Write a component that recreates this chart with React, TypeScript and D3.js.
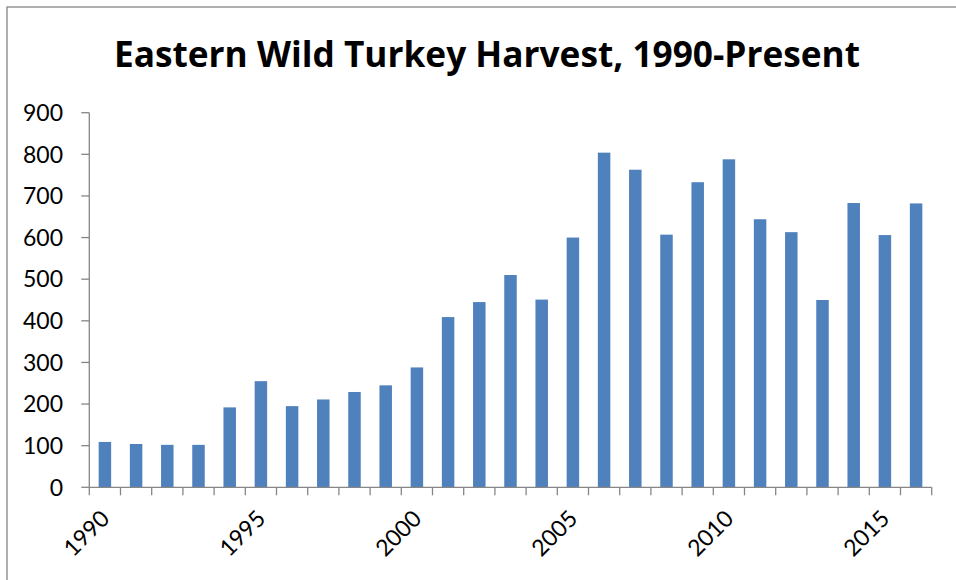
import React from "react";
import * as d3 from "d3";

const years: string[] = [
  "1990","1991","1992","1993","1994","1995","1996","1997","1998","1999",
  "2000","2001","2002","2003","2004","2005","2006","2007","2008","2009",
  "2010","2011","2012","2013","2014","2015","2016",
];
const harvest: number[] = [
  109, 104, 102, 102, 192, 255, 195, 211, 229, 245,
  288, 409, 445, 510, 451, 600, 804, 763, 607, 733,
  788, 644, 613, 450, 683, 606, 682,
];
const labeledYears: string[] = ["1990", "1995", "2000", "2005", "2010", "2015"];
const yTicks: number[] = [0, 100, 200, 300, 400, 500, 600, 700, 800, 900];
const title = "Eastern Wild Turkey Harvest, 1990-Present";

const W = 956;
const H = 580;
const left = 89.3;
const right = 931.7;
const top = 112.7;
const bottom = 487.3;
const axisColor = "#868686";
const barColor = "#4F81BD";
const font = "Lato, 'Open Sans', sans-serif";
const titleFont = "'Open Sans', Lato, sans-serif";

export default function App() {
  const x = d3.scaleBand<string>().domain(years).range([left, right]).paddingInner(0).paddingOuter(0);
  const y = d3.scaleLinear().domain([0, 900]).range([bottom, top]);
  const bw = x.bandwidth();
  const barW = bw * 0.4;

  const boundaries = d3.range(years.length + 1).map((i) => left + i * bw);

  return (
    <svg
      width={W}
      height={H}
      style={{ position: "absolute", left: 0, top: 0, background: "#fff" }}
      xmlns="http://www.w3.org/2000/svg"
    >
      <rect x={0} y={0} width={W} height={H} fill="#fff" />
      {/* outer chart border */}
      <rect x={7} y={7} width={W + 20} height={H + 20} fill="none" stroke={axisColor} strokeWidth={1.3} />

      <text
        x={487}
        y={67}
        textAnchor="middle"
        fontFamily={titleFont}
        fontWeight={700}
        fontSize={35}
        textLength={746}
        lengthAdjust="spacingAndGlyphs"
        fill="#000"
      >
        {title}
      </text>

      {/* bars */}
      {years.map((yr, i) => (
        <rect
          key={yr}
          x={(x(yr) as number) + bw / 2 - barW / 2}
          y={y(harvest[i])}
          width={barW}
          height={bottom - y(harvest[i])}
          fill={barColor}
        />
      ))}

      {/* y axis */}
      <line x1={left} x2={left} y1={top} y2={bottom} stroke={axisColor} strokeWidth={1.3} />
      {yTicks.map((t) => (
        <g key={t}>
          <line x1={left - 8} x2={left} y1={y(t)} y2={y(t)} stroke={axisColor} strokeWidth={1.3} />
          <text
            x={63}
            y={y(t)}
            dy="0.36em"
            textAnchor="end"
            fontFamily={font}
            fontSize={23}
            fill="#000"
          >
            {t}
          </text>
        </g>
      ))}

      {/* x axis */}
      <line x1={left} x2={right} y1={bottom} y2={bottom} stroke={axisColor} strokeWidth={1.3} />
      {boundaries.map((bx, i) => (
        <line key={i} x1={bx} x2={bx} y1={bottom} y2={bottom + 8} stroke={axisColor} strokeWidth={1.3} />
      ))}
      {labeledYears.map((yr) => {
        const cx = (x(yr) as number) + bw / 2 + 6;
        const cy = 520;
        return (
          <text
            key={yr}
            x={cx}
            y={cy}
            textAnchor="end"
            transform={`rotate(-45 ${cx} ${cy})`}
            fontFamily={font}
            fontSize={23}
            fill="#000"
          >
            {yr}
          </text>
        );
      })}
    </svg>
  );
}
